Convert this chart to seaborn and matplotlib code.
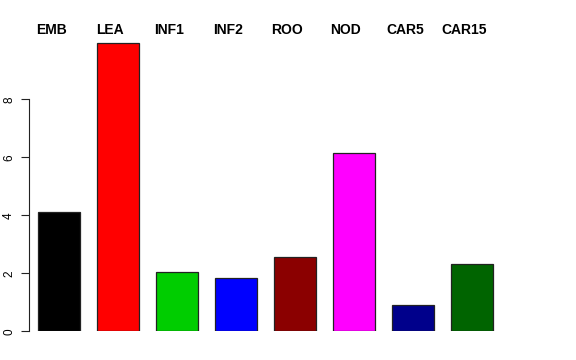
"""
Bar chart of group values (EMB ... CAR15), R barplot style.
"""

import pandas as pd
import matplotlib
matplotlib.use("Agg")
import matplotlib.pyplot as plt
import seaborn as sns

groups = ['EMB', 'LEA', 'INF1', 'INF2', 'ROO', 'NOD', 'CAR5', 'CAR15']
values = [4.12, 9.93, 2.03, 1.84, 2.55, 6.16, 0.90, 2.33]
colors = ['#000000', '#FF0000', '#00CD00', '#0000FF',
          '#8B0000', '#FF00FF', '#00008B', '#006400']
y_ticks = [0, 2, 4, 6, 8]


def make_plot(df):
    sns.set_style("white")
    plt.rcParams['font.family'] = ['Liberation Sans', 'DejaVu Sans']
    plt.rcParams['text.color'] = 'black'
    plt.rcParams['ytick.labelcolor'] = 'black'

    fig = plt.figure(figsize=(5.76, 3.6), dpi=100)
    # axes placed in pixels: left edge = y axis line, bottom = y=0
    ax = fig.add_axes([29 / 576, 28.7 / 360, (530 - 29) / 576, 10.6 * 29 / 360])

    sns.barplot(data=df, x='group', y='value', hue='group', palette=colors,
                legend=False, width=0.71, edgecolor='#222222', linewidth=0.9,
                saturation=1, ax=ax)

    ax.set_xlim(-0.514, 7.98)
    ax.set_ylim(0, 10.6)

    # group names on top, slightly left of bar centres
    for i, name in enumerate(groups):
        ax.text(i - 0.14, 10.38, name, ha='center', va='center',
                fontsize=10, fontweight='bold', color='black', clip_on=False)

    for side in ['top', 'right', 'bottom']:
        ax.spines[side].set_visible(False)
    ax.spines['left'].set_bounds(0, 8)
    ax.spines['left'].set_color('#222222')
    ax.spines['left'].set_linewidth(0.8)

    ax.set_xticks([])
    ax.set_yticks(y_ticks)
    ax.set_yticklabels([str(t) for t in y_ticks], rotation=90, va='center')
    ax.tick_params(axis='y', left=True, length=6, width=0.8, color='#222222',
                   pad=4, labelsize=8.5, labelcolor='black')
    ax.set_xlabel('')
    ax.set_ylabel('')

    fig.savefig('out.png', dpi=100)


def main():
    df = pd.DataFrame({'group': groups, 'value': values})
    make_plot(df)


if __name__ == "__main__":
    main()
